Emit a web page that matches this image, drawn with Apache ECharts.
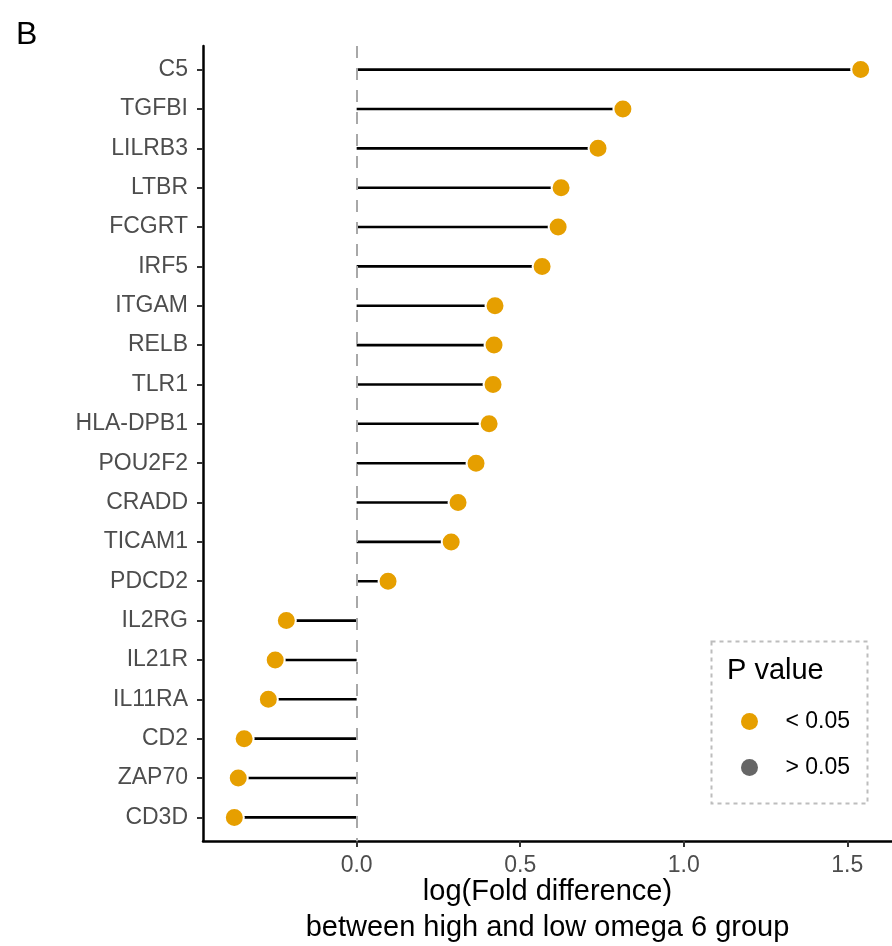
<!DOCTYPE html>
<html>
<head>
<meta charset="utf-8">
<title>Lollipop: log fold difference</title>
<script src="https://cdn.jsdelivr.net/npm/echarts@6/dist/echarts.min.js"></script>
<style>
  html, body { margin: 0; padding: 0; background: #fff; }
  #chart { width: 892px; height: 946px; }
</style>
</head>
<body>
<div id="chart"></div>
<script>
// Genes, top to bottom
const genes = ['C5', 'TGFBI', 'LILRB3', 'LTBR', 'FCGRT', 'IRF5', 'ITGAM', 'RELB', 'TLR1',
  'HLA-DPB1', 'POU2F2', 'CRADD', 'TICAM1', 'PDCD2', 'IL2RG', 'IL21R', 'IL11RA', 'CD2', 'ZAP70', 'CD3D'];
// log(Fold difference) between high and low omega 6 group
const logFold = [1.541, 0.814, 0.738, 0.625, 0.616, 0.567, 0.423, 0.420, 0.417,
  0.405, 0.365, 0.310, 0.289, 0.096, -0.215, -0.249, -0.270, -0.344, -0.362, -0.374];
// P value group of each gene
const pGroup = genes.map(() => '< 0.05');
const pLevels = ['< 0.05', '> 0.05'];
const pColors = ['#E69F00', '#666666'];
// x tick labels
const xTicks = [0, 0.5, 1.0, 1.5];
const yIndex = genes.map((g, i) => i);

// ggplot-style 5% expansion of the x range
const lo = Math.min(...logFold), hi = Math.max(...logFold);
const pad = (hi - lo) * 0.05;

const pairs = logFold.map((v, i) => [v, i]);
const FONT = 'Liberation Sans, Arial, sans-serif';
const axisText = { color: '#4D4D4D', fontSize: 23, fontFamily: FONT };

const chart = echarts.init(document.getElementById('chart'), null, { renderer: 'canvas' });
chart.setOption({
  animation: false,
  backgroundColor: '#fff',
  grid: { left: 203, right: 0, top: 46, bottom: 105, containLabel: false, outerBoundsMode: 'none' },
  xAxis: {
    type: 'value',
    min: lo - pad,
    max: hi + pad,
    splitLine: { show: false },
    axisLine: { show: true, onZero: false, lineStyle: { color: '#000', width: 2.5 } },
    axisTick: { show: true, customValues: xTicks, length: 6, lineStyle: { color: '#333', width: 2 } },
    axisLabel: Object.assign({ customValues: xTicks, margin: 13, formatter: v => v.toFixed(1) }, axisText),
    name: 'log(Fold difference)\nbetween high and low omega 6 group',
    nameLocation: 'middle',
    nameGap: 33,
    nameMoveOverlap: false,
    nameTextStyle: { color: '#000', fontSize: 29, lineHeight: 36, fontFamily: FONT }
  },
  yAxis: {
    type: 'value',
    inverse: true,
    min: -0.6,
    max: genes.length - 1 + 0.6,
    splitLine: { show: false },
    axisLine: { show: true, onZero: false, lineStyle: { color: '#000', width: 2.5 } },
    axisTick: { show: true, customValues: yIndex, length: 6, lineStyle: { color: '#333', width: 2 } },
    axisLabel: Object.assign({ customValues: yIndex, margin: 15,
      formatter: v => genes[Math.round(v)] }, axisText)
  },
  legend: {
    orient: 'vertical',
    left: 736,
    top: 705,
    itemWidth: 62,
    itemHeight: 17,
    itemGap: 23,
    icon: 'circle',
    itemStyle: { borderWidth: 0 },
    data: pLevels,
    textStyle: { color: '#000', fontSize: 23, lineHeight: 23, fontFamily: FONT }
  },
  graphic: [
    { type: 'text', left: 16, top: 19, style: { text: 'B', fill: '#000', font: '32px ' + FONT } },
    { type: 'rect', left: 709, top: 639, shape: { width: 156, height: 162 },
      style: { fill: 'none', stroke: '#bdbdbd', lineWidth: 2, lineDash: [4, 4] } },
    { type: 'text', left: 727, top: 656, style: { text: 'P value', fill: '#000', font: '29px ' + FONT } }
  ],
  series: [
    {
      name: 'stems',
      type: 'custom',
      data: pairs,
      encode: { x: 0, y: 1 },
      z: 2,
      renderItem: (params, api) => {
        const a = api.coord([0, api.value(1)]);
        const b = api.coord([api.value(0), api.value(1)]);
        return { type: 'line', shape: { x1: a[0], y1: a[1], x2: b[0], y2: b[1] },
          style: { stroke: '#000', lineWidth: 2.6 } };
      },
      markLine: {
        silent: true,
        symbol: ['none', 'none'],
        label: { show: false },
        lineStyle: { color: '#a8a8a8', width: 2, type: [12, 10] },
        data: [{ xAxis: 0 }]
      }
    },
    {
      name: pLevels[0],
      type: 'scatter',
      z: 3,
      symbol: 'circle',
      symbolSize: 19,
      data: pairs.filter((p, i) => pGroup[i] === pLevels[0]),
      itemStyle: { color: pColors[0], borderColor: '#fff', borderWidth: 2, opacity: 1 }
    },
    {
      name: pLevels[1],
      type: 'scatter',
      z: 3,
      symbol: 'circle',
      symbolSize: 19,
      data: pairs.filter((p, i) => pGroup[i] === pLevels[1]),
      itemStyle: { color: pColors[1], borderColor: '#fff', borderWidth: 2, opacity: 1 }
    }
  ]
});
</script>
</body>
</html>
